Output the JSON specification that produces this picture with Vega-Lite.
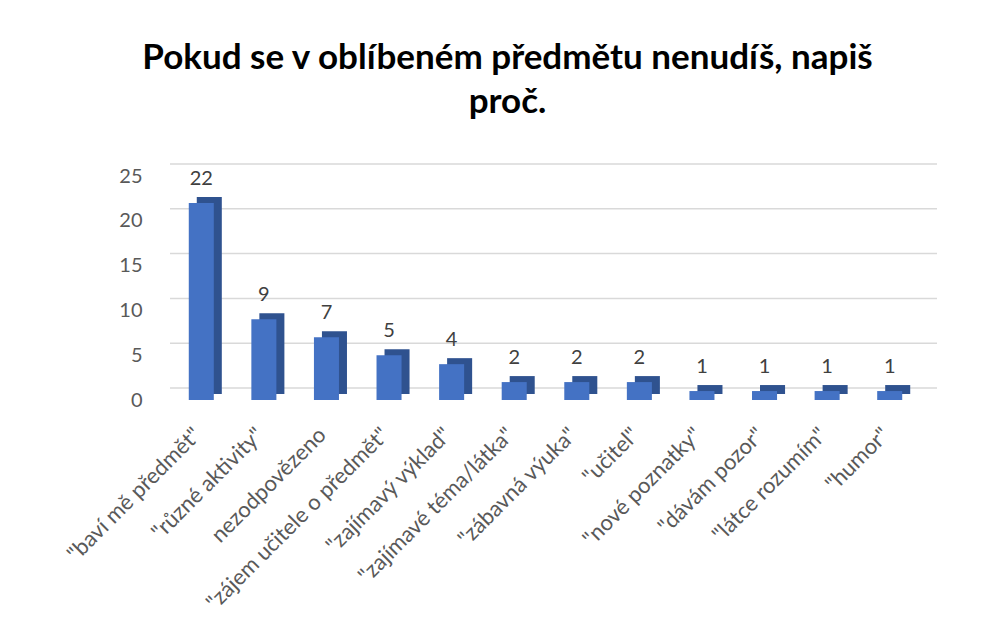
{
  "$schema": "https://vega.github.io/schema/vega-lite/v6.json",
  "autosize": {"type": "none"},
  "width": 751,
  "height": 224,
  "padding": {"left": 170, "top": 176, "right": 70, "bottom": 237},
  "background": "white",
  "config": {
    "view": {"stroke": null},
    "font": "Lato"
  },
  "title": {
    "text": ["Pokud se v oblíbeném předmětu nenudíš, napiš", "proč."],
    "font": "Lato",
    "fontSize": 35,
    "fontWeight": "bold",
    "color": "#000000",
    "lineHeight": 44,
    "anchor": "middle",
    "dx": -38,
    "offset": 43
  },
  "datasets": {
    "bars": [
      {"category": "\"baví mě předmět\"", "value": 22},
      {"category": "\"různé aktivity\"", "value": 9},
      {"category": "nezodpovězeno", "value": 7},
      {"category": "\"zájem učitele o předmět\"", "value": 5},
      {"category": "\"zajímavý výklad\"", "value": 4},
      {"category": "\"zajímavé téma/látka\"", "value": 2},
      {"category": "\"zábavná výuka\"", "value": 2},
      {"category": "\"učitel\"", "value": 2},
      {"category": "\"nové poznatky\"", "value": 1},
      {"category": "\"dávám pozor\"", "value": 1},
      {"category": "\"látce rozumím\"", "value": 1},
      {"category": "\"humor\"", "value": 1}
    ],
    "grid": [{"v": 0}, {"v": 5}, {"v": 10}, {"v": 15}, {"v": 20}, {"v": 25}]
  },
  "layer": [
    {
      "data": {"name": "grid"},
      "mark": {"type": "rule", "color": "#d9d9d9", "strokeWidth": 1.5, "xOffset": 16, "x2Offset": 16, "yOffset": -12},
      "encoding": {
        "y": {"field": "v", "type": "quantitative", "scale": {"domain": [0, 25], "nice": false},
              "axis": {"values": [0, 5, 10, 15, 20, 25], "grid": false, "domain": false, "ticks": false,
                       "labelFontSize": 20, "labelColor": "#595959", "labelPadding": 28, "title": null}}
      }
    },
    {
      "data": {"name": "bars"},
      "mark": {"type": "bar", "color": "#2F528F", "xOffset": 8, "x2Offset": 8, "yOffset": -6, "y2Offset": -6},
      "encoding": {
        "x": {"field": "category", "type": "nominal", "sort": null,
              "scale": {"paddingInner": 0.6, "paddingOuter": 0.3},
              "axis": {"labelAngle": -45, "labelAlign": "right", "labelBaseline": "middle", "labelFontSize": 22,
                       "labelColor": "#595959", "labelPadding": 31, "labelOffset": -4, "labelLimit": 400, "domain": false,
                       "ticks": false, "title": null}},
        "y": {"field": "value", "type": "quantitative"}
      }
    },
    {
      "data": {"name": "bars"},
      "mark": {"type": "bar", "color": "#4472C4"},
      "encoding": {
        "x": {"field": "category", "type": "nominal", "sort": null},
        "y": {"field": "value", "type": "quantitative"}
      }
    },
    {
      "data": {"name": "bars"},
      "mark": {"type": "text", "fontSize": 20, "color": "#404040", "baseline": "alphabetic", "dy": -18},
      "encoding": {
        "x": {"field": "category", "type": "nominal", "sort": null},
        "y": {"field": "value", "type": "quantitative"},
        "text": {"field": "value", "type": "quantitative"}
      }
    }
  ]
}
